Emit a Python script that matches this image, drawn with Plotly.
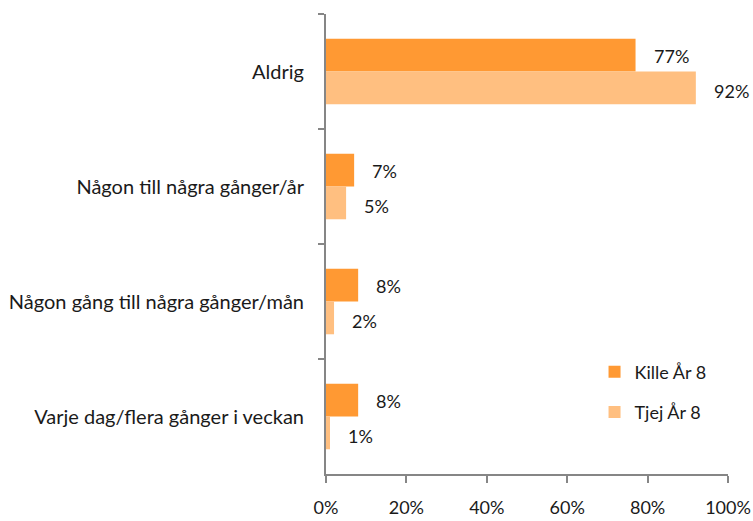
import plotly.graph_objects as go

categories = [
    "Aldrig",
    "Någon till några gånger/år",
    "Någon gång till några gånger/mån",
    "Varje dag/flera gånger i veckan",
]
kille = [77, 7, 8, 8]
tjej = [92, 5, 2, 1]
series_names = ["Kille År 8", "Tjej År 8"]
colors = ["#FF9933", "#FFBF80"]
x_ticks = [0, 20, 40, 60, 80, 100]

FONT = "Lato, Open Sans, sans-serif"
TXT = "#1a1a1a"
AXIS = "#868686"
bargap = 0.43

fig = go.Figure()
for i, (name, vals, col) in enumerate(zip(series_names, [kille, tjej], colors)):
    fig.add_trace(go.Bar(
        y=categories, x=vals, orientation="h", name=name,
        marker=dict(color=col, line=dict(width=0)),
        legendgroup=name,
    ))
    # value labels to the right of each bar, centred on that bar within the group
    offset = (1 - bargap) / 4 * (-1 if i == 0 else 1)
    for j, v in enumerate(vals):
        fig.add_annotation(
            x=v, y=j + offset, text=f"{v}%", showarrow=False,
            xanchor="left", xshift=16, yshift=(-1 if i == 0 else -3),
            font=dict(size=18, color=TXT, family=FONT),
            yref="y", xref="x",
        )

fig.update_layout(
    width=753, height=521,
    margin=dict(l=326, r=25, t=14, b=47),
    paper_bgcolor="white", plot_bgcolor="white",
    barmode="group", bargap=bargap, bargroupgap=0,
    font=dict(family=FONT, size=18, color=TXT),
    showlegend=True,
    legend=dict(
        x=0.668, y=0.262, xanchor="left", yanchor="top",
        tracegroupgap=14, font=dict(size=18, color=TXT),
        itemwidth=30, bgcolor="rgba(0,0,0,0)",
    ),
    xaxis=dict(
        range=[0, 100], tickvals=x_ticks,
        ticktext=[f"{t}%" for t in x_ticks],
        showgrid=False, zeroline=False,
        showline=True, linecolor=AXIS, linewidth=2,
        ticks="outside", ticklen=7, tickcolor=AXIS, tickwidth=2,
        ticklabelstandoff=9, automargin=False,
        tickfont=dict(size=18),
    ),
    yaxis=dict(
        type="category", categoryorder="array", categoryarray=categories,
        autorange="reversed",
        showgrid=False, zeroline=False,
        showline=True, linecolor=AXIS, linewidth=2,
        ticks="outside", ticklen=6, tickcolor=AXIS, tickwidth=2,
        tickson="boundaries",
        ticklabelstandoff=16, automargin=False,
        tickfont=dict(size=20),
    ),
)

fig.write_html("out.html")
